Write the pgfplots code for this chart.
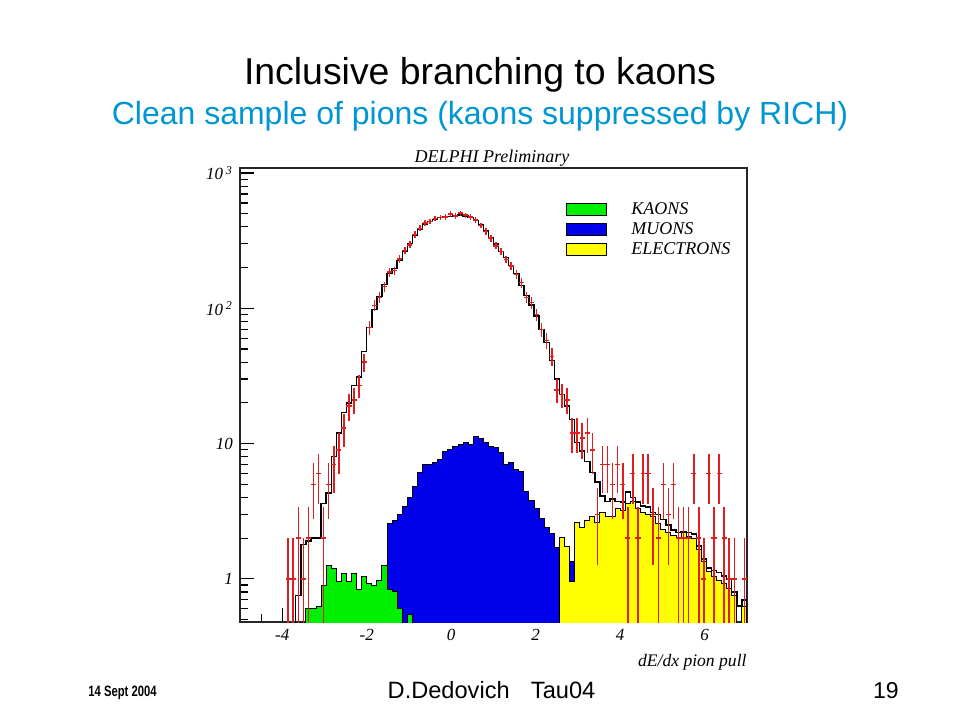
\documentclass[border=0pt]{standalone}
\usepackage{fontspec}
\setmainfont{Liberation Sans}
\newfontfamily\rootfont{Liberation Serif}
\usepackage{graphicx}
\usepackage{pgfplots}
\pgfplotsset{compat=1.18}
\usepackage{pgfplotstable}

\definecolor{kaon}{RGB}{0,240,0}
\definecolor{muon}{RGB}{0,0,235}
\definecolor{elec}{RGB}{255,255,0}
\definecolor{datared}{RGB}{225,30,30}
\definecolor{subblue}{RGB}{0,150,210}

% bin left edges, width 0.12; 0.1 = empty bin (below the axis)
\pgfplotstableread{
x tot kao muo ele
-5.00 0.1 0.1 0.1 0.1
-4.88 0.1 0.1 0.1 0.1
-4.76 0.1 0.1 0.1 0.1
-4.64 0.1 0.1 0.1 0.1
-4.52 0.1 0.1 0.1 0.1
-4.40 0.1 0.1 0.1 0.1
-4.28 0.1 0.1 0.1 0.1
-4.16 0.1 0.1 0.1 0.1
-4.04 0.1 0.1 0.1 0.1
-3.92 0.1 0.1 0.1 0.1
-3.80 0.1 0.1 0.1 0.1
-3.68 0.75 0.1 0.1 0.1
-3.56 1.8 0.1 0.1 0.1
-3.44 1.9 0.6 0.1 0.1
-3.32 2.0 0.6 0.1 0.1
-3.20 2.0 0.62 0.1 0.1
-3.08 3.6 0.89 0.1 0.1
-2.96 4.3 1.25 0.1 0.1
-2.84 8.0 1.2 0.1 0.1
-2.72 12 0.95 0.1 0.1
-2.60 17 1.1 0.1 0.1
-2.48 20 0.95 0.1 0.1
-2.36 27 1.1 0.1 0.1
-2.24 31 0.84 0.1 0.1
-2.12 48 1.05 0.1 0.1
-2.00 72 0.92 0.1 0.1
-1.88 98 0.9 0.1 0.1
-1.76 122 0.97 0.1 0.1
-1.64 150 1.25 0.1 0.1
-1.52 180 0.84 2.55 0.1
-1.40 198 0.8 2.7 0.1
-1.28 225 0.6 3.0 0.1
-1.16 265 0.1 3.4 0.1
-1.04 300 0.55 4.0 0.1
-0.92 345 0.1 4.85 0.1
-0.80 385 0.1 6.1 0.1
-0.68 420 0.1 7.0 0.1
-0.56 440 0.1 7.0 0.1
-0.44 455 0.1 7.3 0.1
-0.32 468 0.1 7.6 0.1
-0.20 475 0.1 8.8 0.1
-0.08 478 0.1 9.1 0.1
0.04 488 0.1 9.6 0.1
0.16 490 0.1 9.9 0.1
0.28 480 0.1 10.2 0.1
0.40 470 0.1 9.9 0.1
0.52 445 0.1 11.3 0.1
0.64 415 0.1 11.0 0.1
0.76 378 0.1 10.2 0.1
0.88 335 0.1 9.6 0.1
1.00 298 0.1 9.4 0.1
1.12 262 0.1 8.6 0.1
1.24 238 0.1 7.0 0.1
1.36 208 0.1 7.2 0.1
1.48 180 0.1 6.4 0.1
1.60 148 0.1 6.2 0.1
1.72 125 0.1 4.4 0.1
1.84 106 0.1 3.8 0.1
1.96 88 0.1 3.3 0.1
2.08 70 0.1 2.8 0.1
2.20 56 0.1 2.4 0.1
2.32 41 0.1 2.15 0.1
2.44 30 0.1 1.7 0.1
2.56 23 0.1 1.4 2.04
2.68 19 0.1 1.15 1.75
2.80 15 0.1 1.35 0.95
2.92 10.2 0.1 0.1 2.6
3.04 8.8 0.1 0.1 2.4
3.16 7.4 0.1 0.1 2.7
3.28 6.1 0.1 0.1 2.9
3.40 5.2 0.1 0.1 2.6
3.52 4.1 0.1 0.1 3.1
3.64 3.75 0.1 0.1 2.9
3.76 3.9 0.1 0.1 2.9
3.88 3.75 0.1 0.1 3.3
4.00 3.7 0.1 0.1 3.2
4.12 4.4 0.1 0.1 3.6
4.24 4.0 0.1 0.1 3.75
4.36 3.7 0.1 0.1 3.3
4.48 3.45 0.1 0.1 3.1
4.60 3.4 0.1 0.1 3.0
4.72 3.1 0.1 0.1 2.9
4.84 3.0 0.1 0.1 2.55
4.96 2.75 0.1 0.1 2.33
5.08 2.5 0.1 0.1 2.2
5.20 2.3 0.1 0.1 2.1
5.32 2.2 0.1 0.1 2.0
5.44 2.25 0.1 0.1 2.2
5.56 2.2 0.1 0.1 2.05
5.68 2.15 0.1 0.1 2.0
5.80 1.75 0.1 0.1 1.66
5.92 1.4 0.1 0.1 1.35
6.04 1.2 0.1 0.1 1.13
6.16 1.15 0.1 0.1 1.05
6.28 1.12 0.1 0.1 0.97
6.40 1.05 0.1 0.1 0.92
6.52 1.0 0.1 0.1 0.85
6.64 0.8 0.1 0.1 0.75
6.76 0.63 0.1 0.1 0.1
6.88 0.7 0.1 0.1 0.62
7.00 0.1 0.1 0.1 0.1
}\hist

% data: bin centre, counts, upper and lower error
\pgfplotstableread{
x y ep em
-3.86 1 1 0.7
-3.74 1 1 0.7
-3.62 2 1.41 1.7
-3.50 1 1 0.7
-3.38 2 1.41 1.7
-3.26 5 2.24 2.24
-3.14 6 2.45 2.45
-3.02 2 1.41 1.7
-2.90 5 2.24 2.24
-2.78 7 2.65 2.65
-2.66 9 3 3
-2.54 13 3.61 3.61
-2.42 19 4.36 4.36
-2.30 21 4.58 4.58
-2.18 27 5.2 5.2
-2.06 40 6.32 6.32
-1.94 72 8.49 8.49
-1.82 105 10.25 10.25
-1.70 120 10.95 10.95
-1.58 145 12.04 12.04
-1.46 185 13.6 13.6
-1.34 190 13.78 13.78
-1.22 232 15.23 15.23
-1.10 268 16.37 16.37
-0.98 295 17.18 17.18
-0.86 352 18.76 18.76
-0.74 390 19.75 19.75
-0.62 428 20.69 20.69
-0.50 440 20.98 20.98
-0.38 462 21.49 21.49
-0.26 470 21.68 21.68
-0.14 475 21.79 21.79
-0.02 498 22.32 22.32
0.10 482 21.95 21.95
0.22 505 22.47 22.47
0.34 488 22.09 22.09
0.46 475 21.79 21.79
0.58 450 21.21 21.21
0.70 410 20.25 20.25
0.82 370 19.24 19.24
0.94 330 18.17 18.17
1.06 290 17.03 17.03
1.18 262 16.19 16.19
1.30 230 15.17 15.17
1.42 205 14.32 14.32
1.54 178 13.34 13.34
1.66 155 12.45 12.45
1.78 120 10.95 10.95
1.90 110 10.49 10.49
2.02 90 9.49 9.49
2.14 70 8.37 8.37
2.26 58 7.62 7.62
2.38 44 6.63 6.63
2.50 25 5 5
2.62 23 4.8 4.8
2.74 21 4.58 4.58
2.86 12 3.46 3.46
2.98 12 3.46 3.46
3.10 11 3.32 3.32
3.22 12 3.46 3.46
3.34 9 3 3
3.46 3 1.73 1.73
3.58 7 2.65 2.65
3.70 7 2.65 2.65
3.82 5 2.24 2.24
3.94 7 2.65 2.65
4.06 5 2.24 2.24
4.18 2 1.41 1.7
4.30 6 2.45 2.45
4.42 2 1.41 1.7
4.54 6 2.45 2.45
4.66 6 2.45 2.45
4.78 3 1.73 1.73
4.90 2 1.41 1.7
5.02 5 2.24 2.24
5.14 3 1.73 1.73
5.26 5 2.24 2.24
5.38 2 1.41 1.7
5.50 2 1.41 1.7
5.62 2 1.41 1.7
5.74 6 2.45 2.45
5.86 2 1.41 1.7
5.98 1 1 0.7
6.10 6 2.45 2.45
6.22 2 1.41 1.7
6.34 6 2.45 2.45
6.46 2 1.41 1.7
6.58 1 1 0.7
6.70 1 1 0.7
6.94 1 1 0.7
}\data

\begin{document}
\begin{tikzpicture}[x=1pt,y=1pt]
\path[use as bounding box] (-120,-49) rectangle (360,311);

% slide texts
\node[anchor=base, inner sep=0pt, font=\fontsize{18.7}{20}\selectfont] at (120,269) {Inclusive branching to kaons};
\node[anchor=base, inner sep=0pt, font=\fontsize{16}{18}\selectfont, text=subblue] at (120,249) {Clean sample of pions (kaons suppressed by RICH)};
\node[anchor=base west, inner sep=0pt, font=\bfseries\fontsize{7.5}{8}\selectfont] at (-76,-37) {\scalebox{0.75}[1]{14 Sept 2004}};
\node[anchor=base, inner sep=0pt, font=\fontsize{11.8}{12}\selectfont] at (125.75,-38) {D.Dedovich\hspace{0.9em}Tau04};
\node[anchor=base, inner sep=0pt, font=\fontsize{11.5}{12}\selectfont] at (323,-38) {19};
\node[anchor=base, inner sep=0pt, font=\rootfont\itshape\fontsize{9}{10}\selectfont] at (126,230) {DELPHI Preliminary};

\begin{axis}[
  at={(0,0)}, anchor=south west,
  scale only axis, width=253.5pt, height=227pt,
  xmin=-5, xmax=7,
  ymode=log, ymin=0.48, ymax=1090,
  log origin=infty,
  xtick={-4,-2,0,2,4,6},
  xticklabels={\textit{-4},\textit{-2},\textit{0},\textit{2},\textit{4},\textit{6}},
  minor xtick={-4.5,-3.5,-3,-2.5,-1.5,-1,-0.5,0.5,1,1.5,2.5,3,3.5,4.5,5,5.5,6.5},
  ytick={1,10,100,1000},
  yticklabels={\textit{1},\textit{10},\textit{10}\,\textsuperscript{\textit{2}},\textit{10}\,\textsuperscript{\textit{3}}},
  minor ytick={0.5,0.6,0.7,0.8,0.9,2,3,4,5,6,7,8,9,20,30,40,50,60,70,80,90,200,300,400,500,600,700,800,900},
  tick align=inside, xtick pos=bottom, ytick pos=left,
  major tick length=7pt, minor tick length=4pt,
  every tick/.style={black, line width=0.6pt},
  axis line style={black!85, line width=0.8pt},
  ticklabel style={font=\rootfont\itshape\fontsize{8.5}{9}\selectfont},
  xlabel={dE/dx pion pull},
  xlabel style={at={(1,0)}, anchor=base east, inner sep=0pt, yshift=-22pt, font=\rootfont\itshape\fontsize{8.8}{10}\selectfont},
  legend style={draw=none, fill=none, at={(0.643,0.925)}, anchor=north west,
    inner sep=0pt, row sep=2.5pt, column sep=12pt,
    nodes={inner sep=0pt},
    font=\rootfont\itshape\fontsize{9}{9}\selectfont},
  legend cell align=left,
  legend image code/.code={\draw[#1, draw=black, line width=0.5pt] (0pt,-3pt) rectangle (20pt,3pt);},
]
\addlegendimage{fill=kaon}\addlegendentry{KAONS}
\addlegendimage{fill=muon}\addlegendentry{MUONS}
\addlegendimage{fill=elec}\addlegendentry{ELECTRONS}

\addplot[const plot, fill=muon, draw=black, line width=0.5pt, forget plot] table[x=x, y=muo] {\hist};
\addplot[const plot, fill=elec, draw=black, line width=0.5pt, forget plot] table[x=x, y=ele] {\hist};
\addplot[const plot, fill=kaon, draw=black, line width=0.5pt, forget plot] table[x=x, y=kao] {\hist};
\addplot[const plot, draw=black, line width=0.7pt, forget plot] table[x=x, y=tot] {\hist};

\addplot[draw=none, mark=none, forget plot,
  error bars/.cd,
    x dir=both, x fixed=0.06,
    y dir=both, y explicit,
    error mark=none,
    error bar style={draw=datared, line width=0.75pt}]
  table[x=x, y=y, y error plus=ep, y error minus=em] {\data};
\end{axis}
\end{tikzpicture}
\end{document}
